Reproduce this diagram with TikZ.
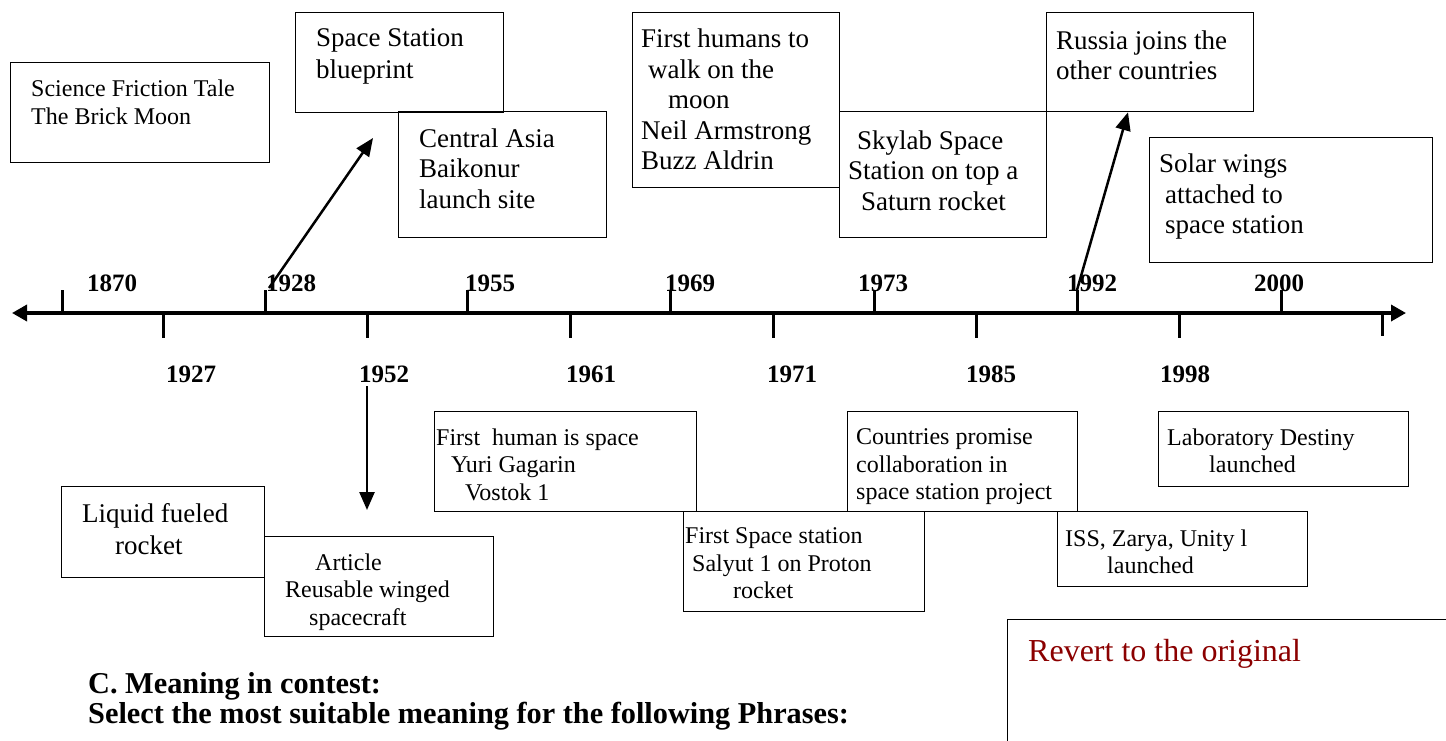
\documentclass[tikz,border=0pt]{standalone}
\usepackage{fontspec}
\setmainfont{Liberation Serif}
\usetikzlibrary{arrows.meta}
\definecolor{revred}{HTML}{8B0000}

\begin{document}
\begin{tikzpicture}[x=1pt, y=-1pt,
    box/.style={draw=black, line width=1.3pt, anchor=north west, inner sep=0pt},
    big/.style={anchor=north west, inner sep=0pt, align=left, font=\fontsize{27}{30.5}\selectfont},
    small/.style={anchor=north west, inner sep=0pt, align=left, font=\fontsize{24}{27.5}\selectfont},
    yr/.style={font=\bfseries\fontsize{25}{30}\selectfont, inner sep=0pt},
    head/.style={anchor=base west, inner sep=0pt, font=\bfseries\fontsize{30.3}{32}\selectfont},
    axis/.style={{Triangle[length=15pt,width=16pt]}-{Triangle[length=15pt,width=16pt]}, line width=3.5pt},
    tick/.style={line width=3pt},
    ar/.style={-{Triangle[length=18pt,width=15pt]}, line width=2.5pt}]
    \useasboundingbox (0,0) rectangle (1446,740);
    \clip (0,0) rectangle (1446,740);

    % time line
    \coordinate (tl) at (12,313);
    \coordinate (tr) at (1406,313);
    \draw[axis] (tl) -- (tr);
    \foreach \x in {62,265,467,670,874,1077,1281} \draw[tick] (\x,290) -- (\x,313);
    \foreach \x in {163,367,570,773,976,1179} \draw[tick] (\x,313) -- (\x,338);
    \draw[tick] (1382,313) -- (1382,336);
    \foreach \x/\yr in {112/1870,291/1928,490/1955,690/1969,883/1973,1092/1992,1279/2000}
      \node[yr] (y\yr) at (\x,283) {\yr};
    \foreach \x/\yr in {191/1927,384/1952,591/1961,792/1971,991/1985,1185/1998}
      \node[yr] (y\yr) at (\x,374) {\yr};

    % events above
    \node[box, minimum width=259pt, minimum height=100pt] (brick) at (10,62) {};
    \node[small, font=\fontsize{24}{28}\selectfont] (bricktxt) at (31,80) {Science Friction Tale\\The Brick Moon};
    \node[box, minimum width=208pt, minimum height=100pt] (blueprint) at (295,12) {};
    \node[big, font=\fontsize{27}{32}\selectfont] (blueprinttxt) at (316,28.5) {Space Station\\blueprint};
    \node[box, minimum width=208pt, minimum height=126pt] (baikonur) at (398,111) {};
    \node[big] (baikonurtxt) at (419,128.5) {Central Asia\\Baikonur\\launch site};
    \node[box, minimum width=207pt, minimum height=175pt] (moon) at (632,12) {};
    \node[big] (moontxt) at (641,29) {First humans to\\\hspace*{7pt}walk on the\\\hspace*{27pt}moon\\Neil Armstrong\\Buzz Aldrin};
    \node[box, minimum width=207pt, minimum height=126pt] (skylab) at (839,111) {};
    \node[big] (skylabtxt) at (848,130.5) {\hspace*{9pt}Skylab Space\\Station on top a\\\hspace*{13pt}Saturn rocket};
    \node[box, minimum width=207pt, minimum height=99pt] (russia) at (1046,12) {};
    \node[big] (russiatxt) at (1056,30.5) {Russia joins the\\other countries};
    \node[box, minimum width=283pt, minimum height=125pt] (solar) at (1149,137) {};
    \node[big] (solartxt) at (1159,154) {Solar wings\\\hspace*{6pt}attached to\\\hspace*{6pt}space station};

    % events below
    \node[box, minimum width=203pt, minimum height=91pt] (liquid) at (61,486) {};
    \node[big, font=\fontsize{27}{32}\selectfont] (liquidtxt) at (82,503.5) {Liquid fueled\\\hspace*{33pt}rocket};
    \node[box, minimum width=229pt, minimum height=100pt] (article) at (264,536) {};
    \node[small] (articletxt) at (285,553.6) {\hspace*{30pt}Article\\Reusable winged\\\hspace*{24pt}spacecraft};
    \node[box, minimum width=262pt, minimum height=100pt] (gagarin) at (434,411) {};
    \node[small] (gagarintxt) at (436,428.6) {First\ \ human is space\\\hspace*{15pt}Yuri Gagarin\\\hspace*{29pt}Vostok 1};
    \node[box, minimum width=241pt, minimum height=100pt] (salyut) at (683,511) {};
    \node[small] (salyuttxt) at (685,527.6) {First Space station\\\hspace*{7pt}Salyut 1 on Proton\\\hspace*{48pt}rocket};
    \node[box, minimum width=230pt, minimum height=100pt] (promise) at (847,411) {};
    \node[small] (promisetxt) at (856,428.6) {Countries promise\\collaboration in\\space station project};
    \node[box, minimum width=250pt, minimum height=75pt] (destiny) at (1158,411) {};
    \node[small] (destinytxt) at (1167,428.6) {Laboratory Destiny\\\hspace*{42pt}launched};
    \node[box, minimum width=250pt, minimum height=75pt] (iss) at (1057,511) {};
    \node[small] (isstxt) at (1065,529.6) {ISS, Zarya, Unity l\\\hspace*{42pt}launched};

    % arrows
    \coordinate (a28s) at (269,288);
    \coordinate (a28e) at (373,138);
    \draw[ar] (a28s) -- (a28e);
    \coordinate (a92s) at (1077,290);
    \coordinate (a92e) at (1128,0);
    \draw[ar] (a92s) -- (a92e |- russia.south);
    \coordinate (a52s) at (367,386);
    \coordinate (a52e) at (367,510);
    \draw[ar] (a52s) -- (a52e);

    % text below
    \node[head] (meaning) at (88,693) {C. Meaning in contest:};
    \node[head] (select) at (88,723) {Select the most suitable meaning for the following Phrases:};
    \node[box, minimum width=460pt, minimum height=150pt] (revert) at (1007,619) {};
    \node[anchor=base west, inner sep=0pt, text=revred, font=\fontsize{32}{36}\selectfont] (reverttxt) at (1028,661) {Revert to the original};
  \end{tikzpicture}
\end{document}
